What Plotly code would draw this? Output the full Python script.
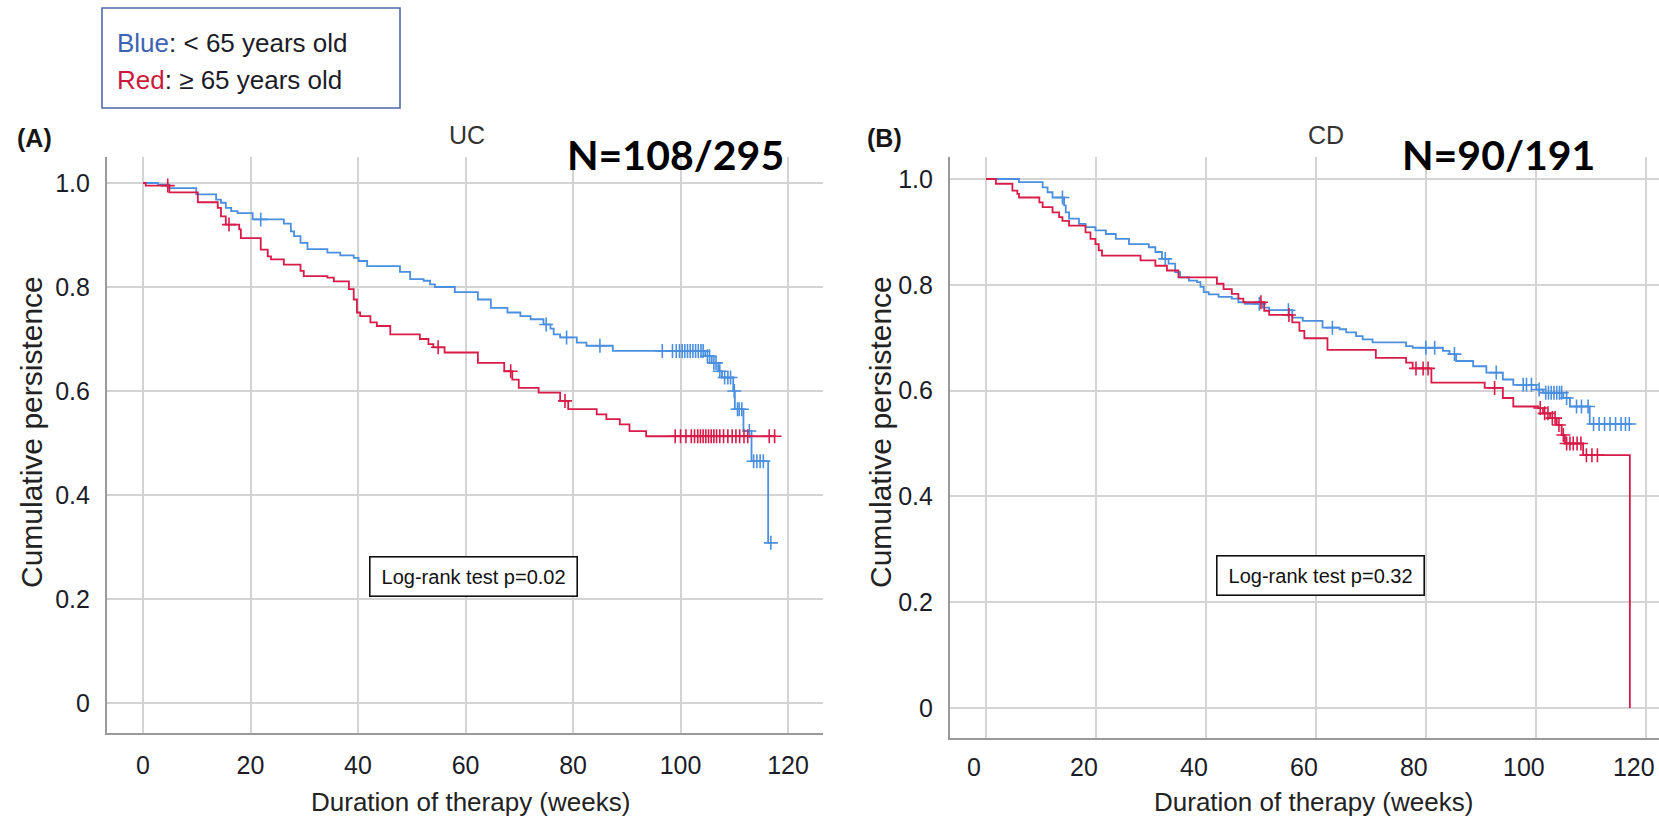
import numpy as np
import plotly.graph_objects as go

# ---------------- data ----------------
x_ticks = [0, 20, 40, 60, 80, 100, 120]
y_ticks = [0, 0.2, 0.4, 0.6, 0.8, 1.0]
y_ticktext = ["0", "0.2", "0.4", "0.6", "0.8", "1.0"]

# UC, blue (< 65 years old): event times (weeks) and survival after each step
uc_blue_t = [2.8, 4.9, 9.9, 13.6, 14.5, 15.4, 16.4, 17.6, 20.4, 26.2, 27.5, 28.1, 29.3, 30.6, 34.3,
             36.7, 39.2, 40.1, 41.7, 47.8, 49.7, 52.2, 53.4, 54.3, 58.0, 62.3, 64.7, 67.8, 70.2, 72.1,
             74.5, 75.8, 76.4, 77.6, 80.7, 82.5, 87.4, 104.6, 105.8, 107.0, 107.7, 109.8, 110.1, 111.7,
             113.2, 116.3]
uc_blue_s = [0.997, 0.990, 0.978, 0.968, 0.962, 0.952, 0.946, 0.942, 0.930, 0.922, 0.907, 0.898, 0.885,
             0.873, 0.866, 0.861, 0.856, 0.850, 0.840, 0.829, 0.815, 0.812, 0.805, 0.800, 0.790, 0.776,
             0.760, 0.751, 0.744, 0.738, 0.728, 0.720, 0.709, 0.703, 0.693, 0.687, 0.677, 0.667, 0.654,
             0.638, 0.626, 0.600, 0.565, 0.523, 0.465, 0.308]
uc_blue_cens = [21.9, 75.0, 78.8, 85.0, 96.6, 98.5, 99.2, 99.8, 100.3, 100.8, 101.3, 101.8, 102.3, 102.8,
                103.3, 103.8, 104.2, 105.0, 105.4, 106.2, 106.6, 107.3, 108.2, 108.8, 109.3, 110.0, 110.6,
                110.9, 111.4, 112.8, 113.6, 114.2, 114.8, 115.4, 116.8]

# UC, red (>= 65 years old)
uc_red_t = [0.5, 4.9, 10.2, 13.9, 14.5, 15.4, 17.9, 18.2, 21.9, 23.2, 23.8, 26.2, 29.3, 29.9, 34.3, 35.5,
            38.3, 39.2, 39.8, 40.4, 42.3, 43.5, 46.0, 51.5, 53.1, 54.0, 56.1, 62.3, 67.2, 68.7, 69.9, 73.6,
            77.6, 79.1, 84.4, 86.2, 88.7, 90.5, 93.6]
uc_red_s = [0.995, 0.982, 0.963, 0.952, 0.936, 0.920, 0.911, 0.894, 0.872, 0.859, 0.853, 0.843, 0.831,
            0.821, 0.818, 0.811, 0.796, 0.776, 0.751, 0.744, 0.732, 0.725, 0.709, 0.700, 0.690, 0.684,
            0.674, 0.654, 0.638, 0.622, 0.606, 0.597, 0.581, 0.565, 0.555, 0.546, 0.536, 0.523, 0.513]
uc_red_cens = [4.6, 16.0, 54.9, 68.4, 78.5, 99.0, 100.0, 101.0, 102.0, 102.6, 103.2, 103.7, 104.2, 104.7,
               105.2, 105.7, 106.2, 106.7, 107.3, 108.0, 108.8, 109.6, 110.3, 111.0, 111.8, 112.5, 116.5,
               117.5]

# CD, blue (< 65 years old)
cd_blue_t = [6.0, 10.3, 11.2, 12.1, 14.2, 14.5, 15.1, 16.9, 18.1, 19.9, 21.8, 23.6, 26.0, 29.6, 30.8, 32.0,
             33.2, 34.4, 35.3, 36.9, 38.4, 39.0, 39.6, 40.5, 42.3, 44.7, 45.9, 47.1, 50.3, 51.5, 55.7, 57.6,
             61.2, 64.3, 65.5, 67.3, 68.5, 70.3, 76.4, 77.6, 83.1, 84.3, 85.5, 88.6, 91.0, 94.0, 95.9, 100.1,
             101.3, 105.0, 106.2, 109.8]
cd_blue_s = [0.994, 0.984, 0.975, 0.965, 0.950, 0.937, 0.925, 0.915, 0.909, 0.903, 0.896, 0.887, 0.877,
             0.871, 0.862, 0.849, 0.840, 0.824, 0.814, 0.808, 0.805, 0.796, 0.786, 0.782, 0.777, 0.774,
             0.767, 0.764, 0.757, 0.752, 0.738, 0.732, 0.719, 0.716, 0.710, 0.703, 0.697, 0.691, 0.684,
             0.681, 0.675, 0.669, 0.656, 0.646, 0.634, 0.621, 0.611, 0.602, 0.596, 0.586, 0.570, 0.537]
cd_blue_cens = [13.9, 32.6, 49.7, 55.0, 63.0, 80.0, 81.6, 85.2, 92.8, 97.7, 98.3, 99.2, 100.6, 101.8, 102.3,
                102.8, 103.3, 103.8, 104.3, 104.7, 105.6, 107.4, 108.3, 109.5, 110.5, 111.5, 112.5, 113.5,
                114.5, 115.5, 116.3, 117.0]

# CD, red (>= 65 years old)
cd_red_t = [1.8, 4.8, 5.7, 6.0, 9.7, 10.3, 12.1, 13.3, 13.9, 15.1, 18.1, 19.0, 19.9, 20.5, 21.1, 28.1, 30.8,
            32.9, 35.0, 42.0, 43.2, 44.7, 45.9, 46.8, 50.6, 51.5, 55.7, 57.0, 57.9, 62.1, 70.9, 76.4, 77.6,
            81.0, 90.7, 94.0, 95.9, 100.4, 101.3, 102.6, 103.8, 104.7, 105.3, 108.6, 117.1]
cd_red_s = [0.991, 0.978, 0.972, 0.965, 0.956, 0.947, 0.937, 0.928, 0.921, 0.912, 0.899, 0.887, 0.877,
            0.865, 0.855, 0.846, 0.836, 0.827, 0.814, 0.802, 0.792, 0.783, 0.774, 0.767, 0.751, 0.743,
            0.729, 0.713, 0.699, 0.677, 0.662, 0.653, 0.642, 0.615, 0.605, 0.586, 0.570, 0.567, 0.557,
            0.548, 0.535, 0.516, 0.500, 0.478, 0.0]
cd_red_cens = [50.0, 55.1, 78.2, 79.5, 80.4, 92.5, 100.8, 101.6, 102.2, 103.0, 103.5, 104.2, 105.0, 105.6,
               106.2, 106.8, 107.5, 108.2, 109.2, 110.2, 111.2]

panel_titles = ["UC", "CD"]
panel_letters = ["(A)", "(B)"]
panel_counts = ["N=108/295", "N=90/191"]
logrank_texts = ["Log-rank test p=0.02", "Log-rank test p=0.32"]

# ---------------- styling ----------------
W, H = 1659, 822
BLUE = "#4a8fe0"
RED = "#d81b48"
FONT = "Liberation Sans, Arial, sans-serif"
TXT = "#1c1c28"


def px(x):
    return x / W


def py(y):
    return 1 - y / H


def km_xy(t, s, end):
    x = [0.0] + list(t) + ([end] if end > t[-1] else [])
    y = [1.0] + list(s) + ([s[-1]] if end > t[-1] else [])
    return x, y


def cens_y(t, s, c):
    idx = np.searchsorted(np.asarray(t), np.asarray(c), side="right") - 1
    return [1.0 if i < 0 else s[i] for i in idx]


fig = go.Figure()

series = [
    (uc_blue_t, uc_blue_s, uc_blue_cens, BLUE, "x", "y"),
    (uc_red_t, uc_red_s, uc_red_cens, RED, "x", "y"),
    (cd_blue_t, cd_blue_s, cd_blue_cens, BLUE, "x2", "y2"),
    (cd_red_t, cd_red_s, cd_red_cens, RED, "x2", "y2"),
]
for t, s, c, col, xa, ya in series:
    end = max(t[-1], max(c))
    xs, ys = km_xy(t, s, end)
    fig.add_trace(go.Scatter(x=xs, y=ys, mode="lines", line=dict(color=col, width=1.8, shape="hv"),
                             xaxis=xa, yaxis=ya, showlegend=False, hoverinfo="skip"))
    fig.add_trace(go.Scatter(x=c, y=cens_y(t, s, c), mode="markers",
                             marker=dict(symbol="cross-thin", size=10, line=dict(color=col, width=1.6)),
                             xaxis=xa, yaxis=ya, showlegend=False, hoverinfo="skip"))

axis_common = dict(showgrid=True, gridcolor="#d4d4d4", gridwidth=1.5, showline=True, linecolor="#9a9a9a",
                   linewidth=2.2, zeroline=False, ticks="", tickfont=dict(family=FONT, size=25, color=TXT),
                   fixedrange=True, ticklabeloverflow="allow")

fig.update_layout(
    width=W, height=H, autosize=False,
    margin=dict(l=0, r=0, t=0, b=0),
    paper_bgcolor="white", plot_bgcolor="white",
    xaxis=dict(domain=[px(107), px(823)], range=[-6.7, 126.5], tickvals=x_ticks, anchor="y",
               ticklabelstandoff=9, **axis_common),
    yaxis=dict(domain=[py(733), py(157)], range=[-0.0577, 1.05], tickvals=y_ticks, ticktext=y_ticktext,
               anchor="x", ticklabelstandoff=10, **axis_common),
    xaxis2=dict(domain=[px(950), 1.0], range=[-6.55, 122.4], tickvals=x_ticks, anchor="y2",
                ticklabelstandoff=6, ticklabelshift=-12, **axis_common),
    yaxis2=dict(domain=[py(738), py(157)], range=[-0.0567, 1.0416], tickvals=y_ticks, ticktext=y_ticktext,
                anchor="x2", ticklabelstandoff=10, **axis_common),
)

ann = []
# legend box
fig.add_shape(type="rect", xref="paper", yref="paper", x0=px(102), x1=px(400), y0=py(108), y1=py(8),
              line=dict(color="#4f6aa8", width=1.6), fillcolor="white")
ann.append(dict(x=px(115), y=py(43), xref="paper", yref="paper", xanchor="left", yanchor="middle",
                text="<span style='color:#3d63b3'>Blue</span>: &lt; 65 years old", showarrow=False,
                font=dict(family=FONT, size=26, color=TXT)))
ann.append(dict(x=px(115), y=py(80), xref="paper", yref="paper", xanchor="left", yanchor="middle",
                text="<span style='color:#cc1a3a'>Red</span>: ≥ 65 years old", showarrow=False,
                font=dict(family=FONT, size=26, color=TXT)))

letter_x = [15, 865]
title_x = [467, 1326]
count_right = [786, 1597]
ytitle_x = [31, 880]
xtitle_x = [470, 1313]
box_center = [(473, 576), (1320, 575)]
for i in range(2):
    ann.append(dict(x=px(letter_x[i]), y=py(138), xref="paper", yref="paper", xanchor="left", yanchor="middle",
                    text="<b>" + panel_letters[i] + "</b>", showarrow=False,
                    font=dict(family=FONT, size=25, color="#161616")))
    ann.append(dict(x=px(title_x[i]), y=py(135), xref="paper", yref="paper", xanchor="center",
                    yanchor="middle", text=panel_titles[i], showarrow=False,
                    font=dict(family=FONT, size=25, color="#333333")))
    ann.append(dict(x=px(count_right[i]), y=py(154), xref="paper", yref="paper", xanchor="right",
                    yanchor="middle", text="<b>" + panel_counts[i] + "</b>", showarrow=False,
                    font=dict(family="Lato, Carlito, sans-serif", size=41, color="black")))
    ann.append(dict(x=px(ytitle_x[i]), y=py(432), xref="paper", yref="paper", xanchor="center",
                    yanchor="middle", text="Cumulative persistence", textangle=-90, showarrow=False,
                    font=dict(family=FONT, size=30, color="#222222")))
    ann.append(dict(x=px(xtitle_x[i]), y=py(802), xref="paper", yref="paper", xanchor="center",
                    yanchor="middle", text="Duration of therapy (weeks)", showarrow=False,
                    font=dict(family=FONT, size=26, color="#222222")))
    bx, by = box_center[i]
    ann.append(dict(x=px(bx), y=py(by), xref="paper", yref="paper", xanchor="center", yanchor="middle",
                    text=logrank_texts[i], showarrow=False, width=194, height=26, borderpad=6,
                    bordercolor="#111111", borderwidth=1.6, bgcolor="white",
                    font=dict(family=FONT, size=20, color="#111111")))

fig.update_layout(annotations=ann)
fig.write_html("out.html", config={"displayModeBar": False},
               post_script="document.body.style.margin='0px';document.body.style.overflow='hidden';")
